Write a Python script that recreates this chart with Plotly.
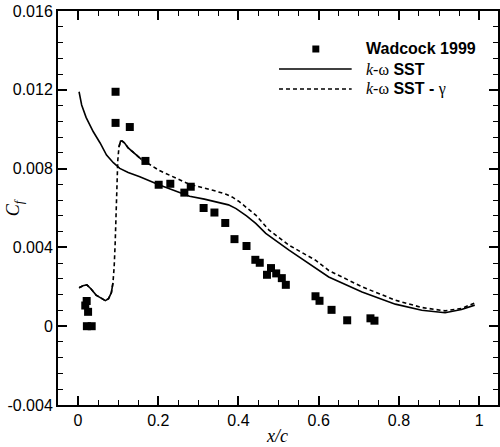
import plotly.graph_objects as go

# ---------------- data ----------------
wad_x = [0.0215, 0.018, 0.025, 0.022, 0.034,
         0.0935, 0.0935, 0.129, 0.168, 0.201, 0.230, 0.265, 0.281, 0.313, 0.340,
         0.367, 0.390, 0.420, 0.442, 0.453, 0.471, 0.481, 0.494, 0.508, 0.518,
         0.592, 0.602, 0.632, 0.671, 0.729, 0.739]
wad_y = [0.00128, 0.00105, 0.00073, 0.0, 0.0,
         0.01190, 0.01032, 0.01011, 0.00839, 0.00718, 0.00723, 0.00678, 0.00708, 0.00600, 0.00577,
         0.00524, 0.00442, 0.00407, 0.00337, 0.00322, 0.00261, 0.00295, 0.00268, 0.00244, 0.00210,
         0.00152, 0.00129, 0.00083, 0.00030, 0.00040, 0.00028]

sst_x = [0.0025, 0.009, 0.02, 0.038, 0.055, 0.071, 0.088, 0.104, 0.125, 0.154,
         0.203, 0.249, 0.278, 0.315, 0.352, 0.375, 0.394, 0.42, 0.443, 0.468,
         0.526, 0.576, 0.625, 0.708, 0.791, 0.857, 0.915, 0.956, 0.989]
sst_y = [0.0119, 0.01123, 0.0106, 0.00987, 0.0093, 0.00869, 0.0083, 0.00801, 0.0078, 0.00759,
         0.00717, 0.00683, 0.0066, 0.00645, 0.00628, 0.00616, 0.00597, 0.0056, 0.00522, 0.00471,
         0.00386, 0.00318, 0.0025, 0.00174, 0.00112, 0.00081, 0.00068, 0.00085, 0.00107]

gam_x = [0.0025, 0.012, 0.022, 0.032, 0.045, 0.058, 0.068, 0.076, 0.083, 0.087,
         0.090, 0.0925, 0.095, 0.097, 0.099, 0.102, 0.106, 0.110, 0.116, 0.125,
         0.158, 0.203, 0.245, 0.278, 0.336, 0.369, 0.385, 0.402, 0.443, 0.476,
         0.526, 0.592, 0.625, 0.708, 0.791, 0.857, 0.915, 0.956, 0.989]
gam_y = [0.00195, 0.00205, 0.0021, 0.0019, 0.00158, 0.0014, 0.0013, 0.0014, 0.0017, 0.0022,
         0.0030, 0.0042, 0.0058, 0.0072, 0.0084, 0.0091, 0.0094, 0.0094, 0.0093, 0.00905,
         0.00847, 0.0079, 0.0075, 0.0072, 0.0069, 0.0067, 0.00655, 0.00632, 0.00564, 0.00488,
         0.00411, 0.00335, 0.00283, 0.0020, 0.00132, 0.00095, 0.00078, 0.0009, 0.00118]

x_tickvals = [0, 0.2, 0.4, 0.6, 0.8, 1]
x_ticktext = ["0", "0.2", "0.4", "0.6", "0.8", "1"]
y_tickvals = [-0.004, 0, 0.004, 0.008, 0.012, 0.016]
y_ticktext = ["-0.004", "0", "0.004", "0.008", "0.012", "0.016"]

names = ["Wadcock 1999", "k-ω SST", "k-ω SST - γ"]

# ---------------- layout helpers ----------------
W, H = 500, 447
ML, MR, MT, MB = 58, 0, 11, 42
PW, PH = W - ML - MR, H - MT - MB


def px(xp):
    return (xp - ML) / PW


def py(yp):
    return (H - MB - yp) / PH


SANS = "Liberation Sans, Arial, sans-serif"
SERIF = "Liberation Serif, Times New Roman, serif"
LW = 1.6
DASH = "4px,3px"

fig = go.Figure()

fig.add_trace(go.Scatter(x=gam_x, y=gam_y, mode="lines", name=names[2],
                         line=dict(color="black", width=LW, dash=DASH), showlegend=False))
# portions of the transition curve rendered continuous in the original
i1 = next(i for i, v in enumerate(gam_x) if v > 0.087)
fig.add_trace(go.Scatter(x=gam_x[:i1], y=gam_y[:i1], mode="lines",
                         line=dict(color="black", width=LW), showlegend=False, hoverinfo="skip"))
i2 = next(i for i, v in enumerate(gam_x) if v >= 0.102)
i3 = next(i for i, v in enumerate(gam_x) if v > 0.158)
fig.add_trace(go.Scatter(x=gam_x[i2:i3], y=gam_y[i2:i3], mode="lines",
                         line=dict(color="black", width=LW), showlegend=False, hoverinfo="skip"))

fig.add_trace(go.Scatter(x=sst_x, y=sst_y, mode="lines", name=names[1],
                         line=dict(color="black", width=LW), showlegend=False))
fig.add_trace(go.Scatter(x=wad_x, y=wad_y, mode="markers", name=names[0],
                         marker=dict(symbol="square", size=8, color="black",
                                     line=dict(width=0)), showlegend=False))

axis_common = dict(
    showgrid=False, zeroline=False, showline=True, linewidth=2, linecolor="black",
    mirror="ticks", ticks="inside", ticklen=9, tickwidth=2, tickcolor="black",
    tickfont=dict(family=SANS, size=16, color="black"),
)

fig.update_xaxes(range=[-0.05, 1.047], tickvals=x_tickvals, ticktext=x_ticktext,
                 minor=dict(dtick=0.05, tick0=0, ticks="inside", ticklen=5, tickwidth=1,
                            tickcolor="black"),
                 **axis_common)
fig.update_yaxes(range=[-0.004, 0.016], tickvals=y_tickvals, ticktext=y_ticktext,
                 minor=dict(dtick=0.0008, tick0=0, ticks="inside", ticklen=5, tickwidth=1,
                            tickcolor="black"),
                 **axis_common)

annotations = [
    dict(text="<i>C<sub>f</sub></i>", x=px(14), y=py(208), xref="paper", yref="paper",
         showarrow=False, textangle=-90, font=dict(family=SERIF, size=18, color="black"),
         xanchor="center", yanchor="middle"),
    dict(text="<i>x/c</i>", x=px(278), y=py(436), xref="paper", yref="paper",
         showarrow=False, font=dict(family=SERIF, size=18, color="black"),
         xanchor="center", yanchor="middle"),
    dict(text="<b>" + names[0] + "</b>", x=px(365), y=py(49), xref="paper", yref="paper",
         showarrow=False, font=dict(family=SANS, size=16, color="black"),
         xanchor="left", yanchor="middle"),
    dict(text="<span style='font-family:Liberation Serif'><i>k</i>-ω</span> <b>SST</b>",
         x=px(365), y=py(69), xref="paper", yref="paper",
         showarrow=False, font=dict(family=SANS, size=16, color="black"),
         xanchor="left", yanchor="middle"),
    dict(text="<span style='font-family:Liberation Serif'><i>k</i>-ω</span> <b>SST - </b>"
              "<span style='font-family:Liberation Serif'>γ</span>",
         x=px(365), y=py(89), xref="paper", yref="paper",
         showarrow=False, font=dict(family=SANS, size=16, color="black"),
         xanchor="left", yanchor="middle"),
]

shapes = [
    dict(type="rect", xref="paper", yref="paper", x0=px(313.5), x1=px(320.5),
         y0=py(52.5), y1=py(45.5), fillcolor="black", line=dict(width=0)),
    dict(type="line", xref="paper", yref="paper", x0=px(280), x1=px(353),
         y0=py(69), y1=py(69), line=dict(color="black", width=LW)),
    dict(type="line", xref="paper", yref="paper", x0=px(280), x1=px(353),
         y0=py(89), y1=py(89), line=dict(color="black", width=LW, dash=DASH)),
]

fig.update_layout(
    width=W, height=H, margin=dict(l=ML, r=MR, t=MT, b=MB),
    paper_bgcolor="white", plot_bgcolor="white",
    showlegend=False, annotations=annotations, shapes=shapes,
    font=dict(family=SANS, color="black"),
)

fig.write_html("out.html")
